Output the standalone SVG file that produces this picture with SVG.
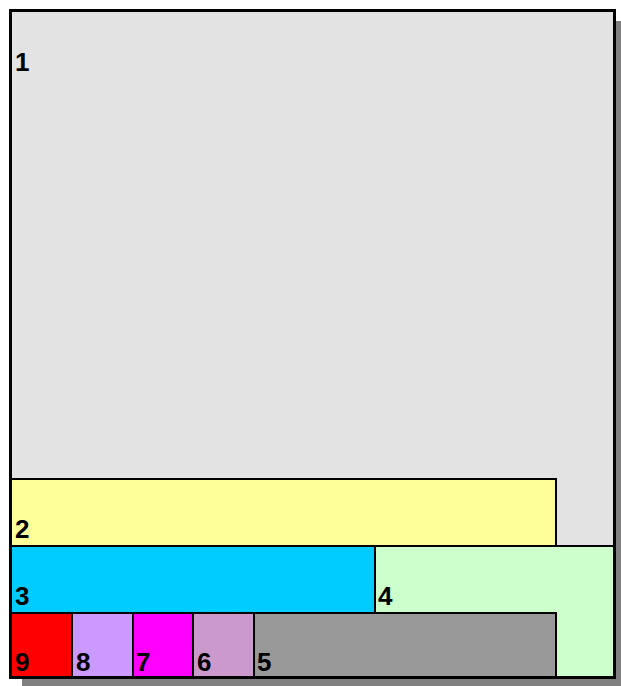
<svg xmlns="http://www.w3.org/2000/svg" width="621" height="686" viewBox="0 0 621 686">
<style>
.box{stroke:#000;stroke-width:2}
.lbl{font-family:"Liberation Sans",Arial,sans-serif;font-weight:bold;font-size:26px;fill:#000}
</style>
<rect x="22" y="21" width="604" height="667" fill="#808080"/>
<g id="node1"><rect x="10.5" y="10.5" width="604" height="667" fill="#E3E3E3" stroke="#000" stroke-width="3"/><text class="lbl" x="15" y="71">1</text></g>
<g id="node2"><rect class="box" x="11" y="479" width="545" height="67" fill="#FFFF99"/><text class="lbl" x="15" y="538">2</text></g>
<g id="node4"><rect class="box" x="375" y="546" width="240" height="132" fill="#CCFFCC"/><text class="lbl" x="378" y="605">4</text></g>
<g id="node3"><rect class="box" x="11" y="546" width="364" height="67" fill="#00CCFF"/><text class="lbl" x="15" y="605">3</text></g>
<g id="node9"><rect class="box" x="11" y="613" width="61" height="65" fill="#FF0000"/><text class="lbl" x="15" y="671">9</text></g>
<g id="node8"><rect class="box" x="72" y="613" width="61" height="65" fill="#CC99FF"/><text class="lbl" x="76" y="671">8</text></g>
<g id="node7"><rect class="box" x="133" y="613" width="60" height="65" fill="#FF00FF"/><text class="lbl" x="136" y="671">7</text></g>
<g id="node6"><rect class="box" x="193" y="613" width="61" height="65" fill="#CC99CC"/><text class="lbl" x="197" y="671">6</text></g>
<g id="node5"><rect class="box" x="254" y="613" width="302" height="65" fill="#999999"/><text class="lbl" x="257" y="671">5</text></g>
<g id="connectors"/>
<rect x="10.5" y="10.5" width="604" height="667" fill="none" stroke="#000" stroke-width="3"/>
</svg>
